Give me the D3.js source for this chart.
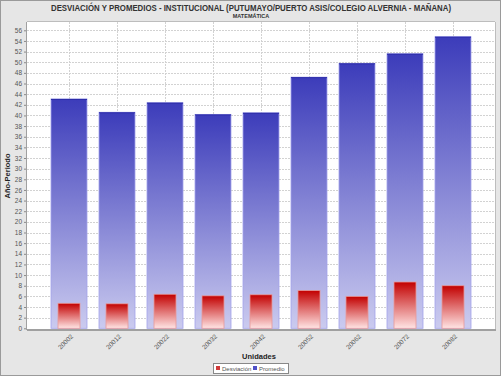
<!DOCTYPE html>
<html><head><meta charset="utf-8">
<script src="https://cdn.jsdelivr.net/npm/d3@7"></script>
<style>body{margin:0;background:#fff}svg{display:block}text{font-family:"Liberation Sans",Arial,sans-serif}</style>
</head><body><svg id="c" width="501" height="376"></svg>
<script>
const categories = ["20002","20012","20022","20032","20042","20052","20062","20072","20082"];
const promedio = [43.1, 40.6, 42.4, 40.2, 40.5, 47.2, 49.8, 51.6, 54.8];
const desviacion = [4.7, 4.6, 6.4, 6.1, 6.3, 7.1, 6.0, 8.7, 8.0];
const yTicks = d3.range(0, 57, 2);
const seriesNames = ["Desviación", "Promedio"];

const svg = d3.select("#c");
const W = 501, H = 376;
const plot = {l: 27, r: 495, t: 22, b: 329};

svg.append("rect").attr("x",0.5).attr("y",0.5).attr("width",W-1).attr("height",H-1)
  .attr("fill","#e6e6e6").attr("stroke","#9a9a9a");

const defs = svg.append("defs");
const gb = defs.append("linearGradient").attr("id","gb").attr("x1",0).attr("y1",0).attr("x2",0).attr("y2",1);
gb.append("stop").attr("offset","0%").attr("stop-color","#3c3cba");
gb.append("stop").attr("offset","100%").attr("stop-color","#cbcbef");
const gr = defs.append("linearGradient").attr("id","gr").attr("x1",0).attr("y1",0).attr("x2",0).attr("y2",1);
gr.append("stop").attr("offset","0%").attr("stop-color","#c20000");
gr.append("stop").attr("offset","100%").attr("stop-color","#ffe4e4");

svg.append("rect").attr("x",plot.l).attr("y",plot.t).attr("width",plot.r-plot.l).attr("height",plot.b-plot.t)
  .attr("fill","#ffffff");

const y = d3.scaleLinear().domain([0,56]).range([328.3, 30.3]);
const x = d3.scalePoint().domain(categories).range([69, 453]);

// grid
svg.append("g").selectAll("line").data(yTicks.slice(1)).join("line")
  .attr("x1",plot.l).attr("x2",plot.r).attr("y1",d=>Math.round(y(d))+0.5).attr("y2",d=>Math.round(y(d))+0.5)
  .attr("stroke","#d2d2d2").attr("stroke-dasharray","2,1");
svg.append("g").selectAll("line").data(categories).join("line")
  .attr("x1",d=>Math.round(x(d))+0.5).attr("x2",d=>Math.round(x(d))+0.5).attr("y1",plot.t).attr("y2",plot.b)
  .attr("stroke","#d2d2d2").attr("stroke-dasharray","2,1");

// bars
const bw = 36, rw = 22;
svg.append("g").selectAll("rect").data(promedio).join("rect")
  .attr("x",(d,i)=>x(categories[i])-bw/2).attr("width",bw)
  .attr("y",d=>y(d)).attr("height",d=>y(0)-y(d))
  .attr("fill","url(#gb)").attr("stroke","#a4a4ea").attr("stroke-width",0.8);
svg.append("g").selectAll("line").data(promedio).join("line")
  .attr("x1",(d,i)=>x(categories[i])-bw/2).attr("x2",(d,i)=>x(categories[i])+bw/2)
  .attr("y1",d=>y(d)+0.5).attr("y2",d=>y(d)+0.5).attr("stroke","#2a2aa8");
svg.append("g").selectAll("rect").data(desviacion).join("rect")
  .attr("x",(d,i)=>x(categories[i])-rw/2).attr("width",rw)
  .attr("y",d=>y(d)).attr("height",d=>y(0)-y(d))
  .attr("fill","url(#gr)").attr("stroke","#e59a9a").attr("stroke-width",0.8);

// axes lines
svg.append("line").attr("x1",plot.l).attr("x2",plot.r+1).attr("y1",plot.b+1).attr("y2",plot.b+1)
  .attr("stroke","#a0a0a0").attr("stroke-width",2);
svg.append("line").attr("x1",plot.l-0.5).attr("x2",plot.l-0.5).attr("y1",plot.t).attr("y2",plot.b+1)
  .attr("stroke","#a0a0a0").attr("stroke-width",1);
svg.append("line").attr("x1",plot.r+0.5).attr("x2",plot.r+0.5).attr("y1",plot.t).attr("y2",plot.b)
  .attr("stroke","#bdbdbd").attr("stroke-width",1);
svg.append("line").attr("x1",plot.l).attr("x2",plot.r).attr("y1",plot.t-0.5).attr("y2",plot.t-0.5)
  .attr("stroke","#bdbdbd").attr("stroke-width",1);

// y axis via d3
const ya = svg.append("g").attr("transform",`translate(${plot.l-1},0)`)
  .call(d3.axisLeft(y).tickValues(yTicks).tickSize(2).tickPadding(2).tickFormat(d3.format("d")));
ya.select(".domain").remove();
ya.selectAll("line").attr("stroke","#888");
ya.selectAll("text").attr("font-size",6.5).attr("fill","#555");

// x axis labels
const xa = svg.append("g").attr("transform",`translate(0,${plot.b+2})`)
  .call(d3.axisBottom(x).tickSize(0).tickPadding(0));
xa.select(".domain").remove();
xa.selectAll("text").attr("font-size",6.5).attr("fill","#555")
  .attr("text-anchor","end").attr("dy",0)
  .attr("transform","translate(4,6) rotate(-45)");

// titles
svg.append("text").attr("x",251).attr("y",10.5).attr("text-anchor","middle")
  .attr("font-size",8.5).attr("font-weight","bold").attr("fill","#333")
  .attr("textLength",400).attr("lengthAdjust","spacingAndGlyphs")
  .text("DESVIACIÓN Y PROMEDIOS - INSTITUCIONAL (PUTUMAYO/PUERTO ASIS/COLEGIO ALVERNIA - MAÑANA)");
svg.append("text").attr("x",251).attr("y",18).attr("text-anchor","middle")
  .attr("font-size",5.5).attr("font-weight","bold").attr("fill","#333").text("MATEMÁTICA");
svg.append("text").attr("x",259).attr("y",359).attr("text-anchor","middle")
  .attr("font-size",7.5).attr("font-weight","bold").attr("fill","#222").text("Unidades");
svg.append("text").attr("transform","translate(10,176) rotate(-90)").attr("text-anchor","middle")
  .attr("font-size",7.5).attr("font-weight","bold").attr("fill","#222").text("Año-Periodo");

// legend
const lg = svg.append("g");
lg.append("rect").attr("x",213.5).attr("y",363.5).attr("width",75).attr("height",10)
  .attr("fill","#fff").attr("stroke","#888");
const colors = ["#d03a3a","#5050c8"];
const lx = [216, 253];
seriesNames.forEach((n,i)=>{
  lg.append("rect").attr("x",lx[i]).attr("y",366).attr("width",4).attr("height",4).attr("fill",colors[i]);
  lg.append("text").attr("x",lx[i]+6).attr("y",371).attr("font-size",6).attr("fill","#555").text(n);
});
</script></body></html>
